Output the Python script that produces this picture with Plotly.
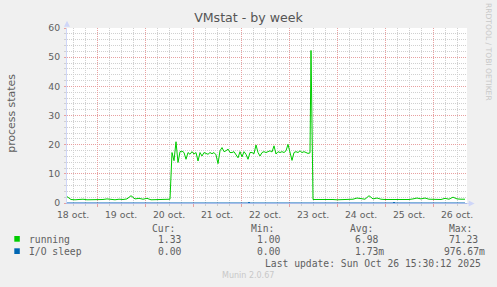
import pandas as pd
import plotly.graph_objects as go

# ---------------- data ----------------
# running: three regularly sampled segments + the spike
low1_start = "2025-10-18 09:00"
low1_vals = [2.2, 1.2, 1.1, 1.2, 1.3, 1.1, 1.1, 1.2, 1.3, 1.2, 1.4, 1.2, 1.1,
             1.3, 1.2, 1.4, 2.5, 1.4, 1.6, 1.3, 1.6, 1.1, 1.1, 1.2, 1.1, 1.2]
mid_start = "2025-10-20 12:30"
mid_vals = [1.3,
            17.3, 14.5, 21.0, 13.9, 17.6, 17.8, 17.3, 15.0, 17.3, 16.7,
            17.6, 16.8, 17.3, 14.4, 17.3, 16.1, 17.3, 17.0, 16.7, 17.3,
            16.9, 17.3, 16.5, 13.5, 17.9, 19.0, 17.6, 17.9, 18.5, 17.3,
            17.3, 17.6, 16.7, 15.5, 17.6, 15.8,
            17.6, 16.7, 15.0, 17.3, 17.3, 16.9, 19.9, 17.3, 16.1, 17.3,
            17.6, 17.3, 17.6, 17.9, 17.5, 19.6, 16.8, 17.6, 17.3, 17.6,
            17.3, 17.9, 20.1, 17.3, 14.6, 17.3, 17.6, 17.3, 17.9, 17.3,
            17.6, 17.3, 17.0,
            17.2]
spike_times = ["2025-10-23 11:00"]
spike_vals = [52.3]
low2_start = "2025-10-23 12:00"
low2_vals = [1.2, 1.3, 1.2, 1.2, 1.3, 1.2, 1.1, 1.2, 1.3, 1.4, 1.3, 1.7, 1.4,
             1.3, 2.5, 1.4, 1.7, 1.3, 1.2, 1.2, 1.1, 1.2, 1.2, 1.3, 1.2, 1.4,
             1.7, 1.4, 1.7, 1.3, 1.2, 1.3, 1.2, 1.6, 1.3, 2.0, 1.4, 1.3, 1.3]

io_times = ["2025-10-18 09:00", "2025-10-22 03:30", "2025-10-22 04:00",
            "2025-10-22 04:30", "2025-10-25 04:00", "2025-10-25 04:30",
            "2025-10-25 05:00", "2025-10-26 16:00"]
io_vals = [0, 0, 0.3, 0, 0, 0.3, 0, 0]

series_names = ["running", "I/O sleep"]
series_colors = ["#00CC00", "#0066B3"]
headers = ["Cur:", "Min:", "Avg:", "Max:"]
running_stats = ["1.33", "1.00", "6.98", "71.23"]
io_stats = ["0.00", "0.00", "1.73m", "976.67m"]
last_update = "Last update: Sun Oct 26 15:30:12 2025"
title = "VMstat - by week"
y_title = "process states"
x_range = ["2025-10-18 09:00", "2025-10-26 17:00"]
y_range = [0, 60]

# ---------------- build series ----------------
t_low1 = pd.date_range(low1_start, periods=len(low1_vals), freq="2h")
t_mid = pd.date_range(mid_start, periods=len(mid_vals), freq="1h")
t_low2 = pd.date_range(low2_start, periods=len(low2_vals), freq="2h")
run_t = list(t_low1) + list(t_mid) + list(pd.to_datetime(spike_times)) + list(t_low2)
run_v = low1_vals + mid_vals + spike_vals + low2_vals

# ---------------- layout geometry (pixels) ----------------
WIDTH, HEIGHT = 497, 287
L, T, PW, PH = 66.7, 28.3, 400, 175
R = WIDTH - L - PW
B = HEIGHT - T - PH
BOTTOM = T + PH


def pxx(px):
    return (px - L) / PW


def pxy(py):
    return (BOTTOM - py) / PH


FONT = "DejaVu Sans"
MONO = "DejaVu Sans Mono"
TXT = "#606060"
MAJ = "#E8A0A0"
MIN = "#D0D0D0"

fig = go.Figure()
fig.add_trace(go.Scatter(x=io_times, y=io_vals, mode="lines",
                         line=dict(color=series_colors[1], width=1),
                         name=series_names[1], hoverinfo="skip"))
fig.add_trace(go.Scatter(x=run_t, y=run_v, mode="lines",
                         line=dict(color=series_colors[0], width=1),
                         name=series_names[0], hoverinfo="skip"))

fig.update_layout(
    width=WIDTH, height=HEIGHT,
    margin=dict(l=L, r=R, t=T, b=B, pad=0),
    paper_bgcolor="#F0F0F0", plot_bgcolor="#FFFFFF",
    showlegend=False, hovermode=False,
    font=dict(family=FONT, color=TXT, size=9.3),
    title=dict(text=title, x=0.5, xref="container", xanchor="center",
               y=1 - 18 / HEIGHT, yref="container", yanchor="middle",
               font=dict(family=FONT, size=12.6, color="#555555")),
)

fig.update_xaxes(
    type="date", range=x_range,
    tick0="2025-10-18", dtick=86400000, ticklabelmode="period",
    tickformat="%d oct.",
    showgrid=True, gridcolor=MAJ, griddash="1px,1px", gridwidth=1,
    ticks="outside", ticklen=3, tickcolor=MAJ,
    minor=dict(tick0="2025-10-18", dtick=21600000, showgrid=True,
               gridcolor=MIN, griddash="1px,1px", gridwidth=1,
               ticks="outside", ticklen=2, tickcolor=MIN),
    showline=True, linecolor="#A8BCEA", linewidth=1,
    zeroline=False, fixedrange=True,
    tickfont=dict(family=FONT, size=9.3, color=TXT),
)
fig.update_yaxes(
    range=y_range, dtick=10, tick0=0,
    showgrid=True, gridcolor=MAJ, griddash="1px,1px", gridwidth=1,
    ticks="outside", ticklen=2, tickcolor=MAJ,
    minor=dict(dtick=2, tick0=0, showgrid=True, gridcolor=MIN,
               griddash="1px,1px", gridwidth=1,
               ticks="outside", ticklen=2, tickcolor=MIN),
    showline=True, linecolor="#CFD6F8", linewidth=1,
    zeroline=False, fixedrange=True,
    ticklabelstandoff=2,
    tickfont=dict(family=FONT, size=9.3, color=TXT),
)

ann = []
# y axis title
ann.append(dict(text=y_title, x=pxx(11), y=pxy(113.7), xref="paper", yref="paper",
                textangle=-90, showarrow=False, xanchor="center", yanchor="middle",
                font=dict(family=FONT, size=10.9, color=TXT)))
# rrdtool watermark
ann.append(dict(text="RRDTOOL / TOBI OETIKER", x=pxx(487.5), y=pxy(53),
                xref="paper", yref="paper", textangle=90, showarrow=False,
                xanchor="center", yanchor="middle",
                font=dict(family=FONT, size=7.6, color="#C8C8C8")))
# legend headers
hdr_x = [149.7, 248.3, 347.7, 446.7]
for h, hx in zip(headers, hdr_x):
    ann.append(dict(text=h, x=pxx(hx), y=pxy(228.3), xref="paper", yref="paper",
                    showarrow=False, xanchor="left", yanchor="middle",
                    font=dict(family=MONO, size=9.7, color=TXT)))
rows = [(series_names[0], running_stats, 239.3, [155.7, 255.0, 352.7, 446.7]),
        (series_names[1], io_stats, 251.7, [155.7, 255.0, 352.7, 441.7])]
for name, stats, ry, sx in rows:
    ann.append(dict(text=name, x=pxx(26.7), y=pxy(ry), xref="paper", yref="paper",
                    showarrow=False, xanchor="left", yanchor="middle",
                    font=dict(family=MONO, size=9.7, color=TXT)))
    for s, x0 in zip(stats, sx):
        ann.append(dict(text=s, x=pxx(x0), y=pxy(ry), xref="paper", yref="paper",
                        showarrow=False, xanchor="left", yanchor="middle",
                        font=dict(family=MONO, size=9.7, color=TXT)))
ann.append(dict(text=last_update, x=pxx(482.3), y=pxy(264), xref="paper", yref="paper",
                showarrow=False, xanchor="right", yanchor="middle",
                font=dict(family=MONO, size=9.7, color=TXT)))
ann.append(dict(text="Munin 2.0.67", x=pxx(248), y=pxy(276), xref="paper", yref="paper",
                showarrow=False, xanchor="center", yanchor="middle",
                font=dict(family=FONT, size=8, color="#C8C8C8")))
fig.update_layout(annotations=ann)

shapes = []
# legend colour boxes
for col, (y0, y1) in zip(series_colors, [(236.3, 242.0), (248.6, 254.3)]):
    shapes.append(dict(type="rect", xref="paper", yref="paper",
                       x0=pxx(14), x1=pxx(19.5), y0=pxy(y1), y1=pxy(y0),
                       fillcolor=col, line=dict(width=0)))


def path(points):
    return "M " + " L ".join(f"{pxx(a):.5f} {pxy(b):.5f}" for a, b in points) + " Z"


# axis arrows
shapes.append(dict(type="path", xref="paper", yref="paper",
                   path=path([(63.7, 27.0), (69.7, 27.0), (66.7, 21.0)]),
                   fillcolor="#CFD6F8", line=dict(width=0)))
shapes.append(dict(type="line", xref="paper", yref="paper",
                   x0=pxx(466.7), x1=pxx(469), y0=pxy(203.8), y1=pxy(203.8),
                   line=dict(color="#CFD6F8", width=1)))
shapes.append(dict(type="path", xref="paper", yref="paper",
                   path=path([(468.3, 200.8), (468.3, 206.8), (474.3, 203.8)]),
                   fillcolor="#CFD6F8", line=dict(width=0)))
fig.update_layout(shapes=shapes)

fig.write_html("out.html", config=dict(displayModeBar=False, staticPlot=True))
